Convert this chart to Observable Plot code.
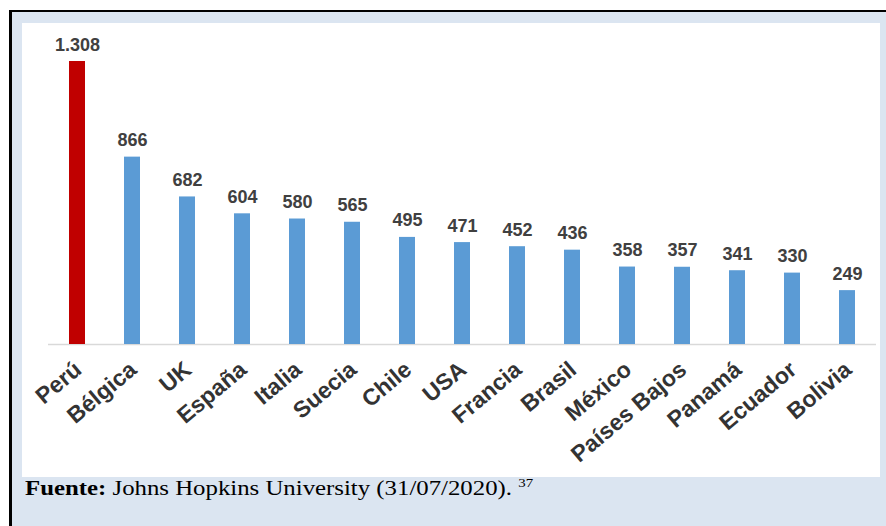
<!DOCTYPE html>
<html>
<head>
<meta charset="utf-8">
<script src="https://cdn.jsdelivr.net/npm/d3@7"></script>
<script src="https://cdn.jsdelivr.net/npm/@observablehq/plot@0.6"></script>
<style>
  html, body { margin: 0; padding: 0; background: #ffffff; overflow: hidden; }
  #frame { position: absolute; left: 9px; top: 10px; width: 877px; height: 516px; background: #dbe5f1; }
  #bleft { position: absolute; left: 9px; top: 10px; width: 3px; height: 516px; background: #000; }
  #btop { position: absolute; left: 9px; top: 10px; width: 877px; height: 2px; background: #000; }
  #panel { position: absolute; left: 22px; top: 23px; width: 858px; height: 454px; background: #fff; overflow: hidden; }
  #panel svg { display: block; }
  #caption { position: absolute; left: 25px; top: 477px; font-family: "Liberation Serif", "Times New Roman", serif;
             font-size: 20px; color: #000; white-space: nowrap; transform: scaleX(1.24); transform-origin: left top; }
  #caption sup { font-size: 12px; vertical-align: 8px; line-height: 0; }
</style>
</head>
<body>
<div id="frame"></div>
<div id="bleft"></div>
<div id="btop"></div>
<div id="panel"></div>
<div id="caption"><b>Fuente:</b> Johns Hopkins University (31/07/2020). <sup>37</sup></div>
<script>
const countries = ["Perú", "Bélgica", "UK", "España", "Italia", "Suecia", "Chile", "USA", "Francia", "Brasil", "México", "Países Bajos", "Panamá", "Ecuador", "Bolivia"];
const deaths = [1308, 866, 682, 604, 580, 565, 495, 471, 452, 436, 358, 357, 341, 330, 249];
const highlight = ["Perú"];

const data = countries.map((c, i) => ({country: c, value: deaths[i]}));
const fmt = d3.formatLocale({decimal: ",", thousands: ".", grouping: [3], currency: ["", ""]}).format(",d");

const chart = Plot.plot({
  width: 858,
  height: 454,
  marginTop: 38,
  marginBottom: 133,
  marginLeft: 26,
  marginRight: 4,
  style: {fontFamily: "'Liberation Sans', Arial, sans-serif", background: "transparent"},
  x: {domain: countries, paddingInner: 0.71, paddingOuter: 0.355, axis: null},
  y: {domain: [0, 1308], axis: null},
  marks: [
    Plot.ruleY([0], {stroke: "#d9d9d9", strokeWidth: 1.5}),
    Plot.barY(data, {x: "country", y: "value", fill: d => highlight.includes(d.country) ? "#c00000" : "#5b9bd5"}),
    Plot.text(data, {x: "country", y: "value", text: d => fmt(d.value), lineAnchor: "bottom", dy: -11,
      fontSize: 18, fontWeight: "bold", fill: "#404040"}),
    Plot.text(countries, {x: d => d, y: () => 0, text: d => d, rotate: -40, textAnchor: "end", lineAnchor: "top",
      dx: -5, dy: 15, fontSize: 23, fontWeight: "bold", fill: "#333333"})
  ]
});
document.getElementById("panel").appendChild(chart);
</script>
</body>
</html>
